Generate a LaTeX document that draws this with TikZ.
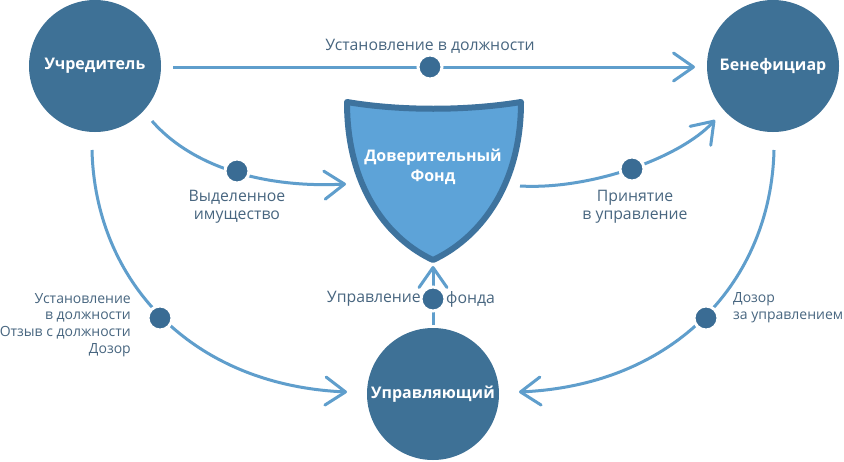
\documentclass[tikz,border=0pt]{standalone}
\usepackage{fontspec}
\setmainfont{Open Sans}
\usetikzlibrary{arrows.meta}
\definecolor{circ}{RGB}{62,113,150}
\definecolor{lin}{RGB}{95,158,204}
\definecolor{lab}{RGB}{72,102,128}
\definecolor{shfill}{RGB}{93,163,216}
\definecolor{shborder}{RGB}{62,115,158}
\definecolor{dotc}{RGB}{58,108,148}
\begin{document}
\begin{tikzpicture}[x=1pt,y=-1pt,
  actor/.style={circle,fill=circ,minimum size=132pt,inner sep=0pt,text=white,font=\fontsize{16}{19}\selectfont\bfseries},
  conn/.style={draw=lin,line width=3pt,-{Straight Barb[length=20pt,width=28pt,line cap=round,line join=round]}},
  dotn/.style={circle,fill=dotc,draw=white,line width=3pt,minimum size=24pt,inner sep=0pt},
  lbl/.style={text=lab,font=\fontsize{15.8}{18.5}\selectfont,inner sep=0pt},
  lbls/.style={text=lab,font=\fontsize{14}{16.7}\selectfont,inner sep=0pt}]
\useasboundingbox (0,0) rectangle (844,461);
\fill[white] (0,0) rectangle (844,461);
% actors
\node[actor] (uch) at (95,66) {Учредитель};
\node[actor] (ben) at (773,66) {Бенефициар};
\node[actor] (upr) at (433,394) {Управляющий};
% shield
\draw[fill=shfill,draw=shborder,line width=6pt,line join=round]
  (347,102) .. controls (400,111) and (466,111) .. (521,102)
  .. controls (521,190) and (476,240) .. (433,260)
  .. controls (390,240) and (347,190) .. (347,102) -- cycle;
\node[text=white,font=\fontsize{16}{20}\selectfont\bfseries,align=center,inner sep=0pt] (fond) at (433,167) {Доверительный\\Фонд};
% endpoints
\coordinate (a1) at (173,67); \coordinate (b1) at (695,67);
\coordinate (a2) at (152,121); \coordinate (b2) at (346,184);
\coordinate (a3) at (520,186); \coordinate (b3) at (715,120);
\coordinate (a4) at (92,150); \coordinate (b4) at (347,392);
\coordinate (a5) at (774,150); \coordinate (b5) at (519,392);
\coordinate (a6) at (433,325); \coordinate (b6) at (433,266);
% connectors
\draw[conn] (a1) -- (b1);
\node[dotn] (d1) at (430,67) {};
\draw[conn] (a2) .. controls (195,170) and (270,188) .. (b2);
\node[dotn] (d2) at (237,171) {};
\draw[conn] (a3) .. controls (590,190) and (680,158) .. (b3);
\node[dotn] (d3) at (632,169) {};
\draw[conn] (a4) .. controls (95,280) and (190,385) .. (b4);
\node[dotn] (d4) at (160,318) {};
\draw[conn] (a5) .. controls (771,280) and (676,385) .. (b5);
\node[dotn] (d5) at (706,318) {};
\draw[conn] (a6) -- (b6);
\node[dotn] (d6) at (433,299) {};
% labels
\node[lbl] (l1) at (430,46) {Установление в должности};
\node[lbl,align=center] (l2) at (237,207) {Выделенное\\имущество};
\node[lbl,align=center] (l3) at (635,207) {Принятие\\в управление};
\node[lbls,align=right,anchor=east] (l4) at (131,325) {Установление\\в должности\\Отзыв с должности\\Дозор};
\node[lbls,align=left,anchor=west] (l5) at (733,308) {Дозор\\за управлением};
\node[lbl,anchor=east] (l6) at (421,299) {Управление};
\node[lbl,anchor=west] (l7) at (446,299) {фонда};
\end{tikzpicture}
\end{document}
